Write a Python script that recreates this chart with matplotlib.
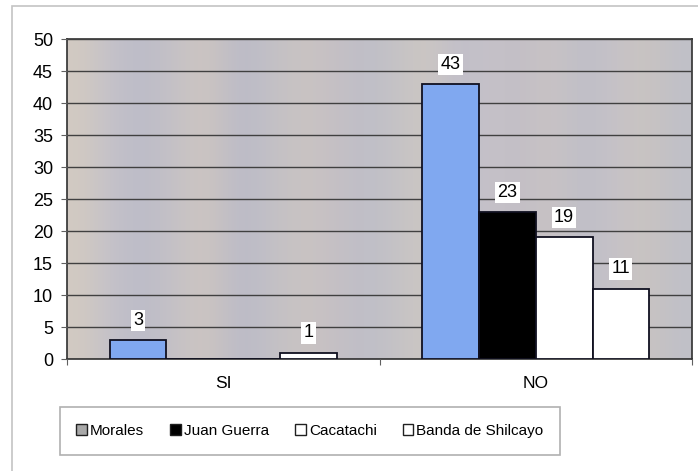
import numpy as np
import matplotlib.pyplot as plt
from matplotlib.patches import Rectangle, Patch

plt.rcParams['font.family'] = ['Liberation Sans', 'DejaVu Sans']

categorias = ["SI", "NO"]
series = ["Morales", "Juan Guerra", "Cacatachi", "Banda de Shilcayo"]
morales = [3, 43]
juan_guerra = [0, 23]
cacatachi = [0, 19]
banda = [1, 11]
valores = [morales, juan_guerra, cacatachi, banda]

colores_barra = ["#80a8f0", "#000000", "#ffffff", "#ffffff"]
colores_leyenda = ["#a8a8a8", "#000000", "#ffffff", "#ffffff"]

fig = plt.figure(figsize=(6.98, 4.71), dpi=100)
fig.patch.set_facecolor("white")

# marco exterior del grafico
fig.patches.append(Rectangle((12 / 698, -0.1), 1.2, 1.1 - 6 / 471, transform=fig.transFigure,
                             facecolor="none", edgecolor="#c4c4c4", lw=1.2))

ax = fig.add_axes([67 / 698, 1 - 359 / 471, 625 / 698, 320 / 471])

# fondo del area de trazado: franjas verticales grises
franjas = np.array([
    [210, 202, 194], [194, 192, 202], [188, 188, 200], [198, 194, 198], [206, 198, 192],
    [186, 186, 200], [194, 192, 198], [202, 196, 194], [198, 192, 196], [190, 190, 200],
    [196, 194, 198], [206, 200, 194], [192, 190, 202], [198, 194, 200], [194, 190, 198],
    [202, 196, 196], [190, 190, 200], [198, 194, 200], [202, 196, 192], [192, 192, 200],
]) / 255.0
ax.imshow(franjas[np.newaxis, :, :], extent=(-0.5, 1.5, 0, 50), aspect="auto",
          interpolation="bicubic", zorder=0)

n = len(series)
ancho = 1 / 5.5
x = np.arange(len(categorias))
for i, (nombre, vals) in enumerate(zip(series, valores)):
    pos = x + (i - (n - 1) / 2) * ancho
    ax.bar(pos, vals, width=ancho, color=colores_barra[i], edgecolor="#101020",
           linewidth=1.3, zorder=3)
    for xp, v in zip(pos, vals):
        if v > 0:
            ax.annotate(str(v), (xp, v), xytext=(0, 8), textcoords="offset points",
                        ha="center", va="bottom", fontsize=13, zorder=4,
                        bbox=dict(boxstyle="square,pad=0.12", fc="white", ec="none"))

ax.set_xlim(-0.5, 1.5)
ax.set_ylim(0, 50)
ax.set_yticks(np.arange(0, 51, 5))
ax.yaxis.grid(True, color="#404040", lw=1.0, zorder=1)
ax.set_axisbelow(False)
ax.set_xticks([-0.5, 0.5, 1.5])
ax.set_xticklabels([])
ax.set_xticks(x, minor=True)
ax.set_xticklabels(categorias, minor=True)
ax.tick_params(axis="x", which="minor", length=0, pad=12, labelsize=12.5)
ax.tick_params(axis="x", which="major", length=4, direction="out", color="#606060")
ax.tick_params(axis="y", length=4, direction="out", color="#606060", labelsize=13, pad=6)
for s in ax.spines.values():
    s.set_color("#303030")
    s.set_linewidth(1.2)

handles = [Patch(facecolor=c, edgecolor="#202020", lw=1.0) for c in colores_leyenda]
leg = fig.legend(handles, series, loc="center", bbox_to_anchor=(310 / 698, 1 - 431 / 471),
                 ncol=4, fontsize=11, handlelength=0.7, handleheight=0.7,
                 handletextpad=0.2, columnspacing=1.7, borderpad=1.1,
                 fancybox=False, edgecolor="#b0b0b0", framealpha=1)
leg.get_frame().set_linewidth(1.2)

fig.savefig("out.png", dpi=100)
